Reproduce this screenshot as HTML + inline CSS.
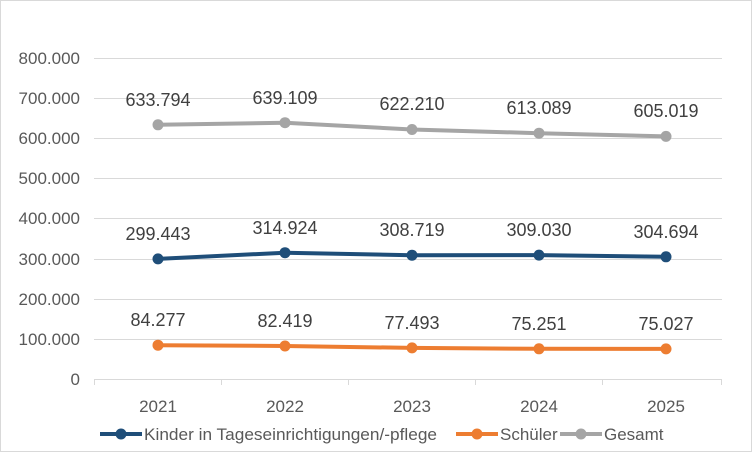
<!DOCTYPE html>
<html><head><meta charset="utf-8"><style>
body{margin:0;background:#fff}
svg{display:block;font-family:"Liberation Sans",sans-serif}
</style></head><body>
<svg width="752" height="452" viewBox="0 0 752 452">
<rect x="0.5" y="0.5" width="751" height="451" fill="#fff" stroke="#d9d9d9"/>
<g stroke="#d9d9d9" stroke-width="1">
<line x1="94" x2="722" y1="58.5" y2="58.5"/>
<line x1="94" x2="722" y1="98.5" y2="98.5"/>
<line x1="94" x2="722" y1="138.5" y2="138.5"/>
<line x1="94" x2="722" y1="178.5" y2="178.5"/>
<line x1="94" x2="722" y1="218.5" y2="218.5"/>
<line x1="94" x2="722" y1="259.5" y2="259.5"/>
<line x1="94" x2="722" y1="299.5" y2="299.5"/>
<line x1="94" x2="722" y1="339.5" y2="339.5"/>
<line x1="94" x2="722" y1="379.5" y2="379.5"/>
<line x1="94.5" x2="94.5" y1="379" y2="385"/>
<line x1="221.5" x2="221.5" y1="379" y2="385"/>
<line x1="348.5" x2="348.5" y1="379" y2="385"/>
<line x1="475.5" x2="475.5" y1="379" y2="385"/>
<line x1="602.5" x2="602.5" y1="379" y2="385"/>
<line x1="721.5" x2="721.5" y1="379" y2="385"/>
</g>
<g font-size="17" fill="#595959" text-anchor="end">
<text x="80" y="64">800.000</text><text x="80" y="104">700.000</text>
<text x="80" y="144">600.000</text><text x="80" y="184">500.000</text>
<text x="80" y="224">400.000</text><text x="80" y="265">300.000</text>
<text x="80" y="305">200.000</text><text x="80" y="345">100.000</text>
<text x="80" y="385">0</text>
</g>
<g font-size="17" fill="#595959" text-anchor="middle">
<text x="158" y="412">2021</text><text x="285" y="412">2022</text>
<text x="412" y="412">2023</text><text x="539" y="412">2024</text><text x="666" y="412">2025</text>
</g>
<g stroke-width="4" fill="none" stroke-linejoin="round">
<polyline stroke="#a5a5a5" points="158,124.8 285,122.7 412,129.5 539,133.2 666,136.4"/>
<polyline stroke="#1f4e79" points="158,258.9 285,252.7 412,255.2 539,255.1 666,256.8"/>
<polyline stroke="#ed7d31" points="158,345.2 285,346 412,347.9 539,348.8 666,348.9"/>
</g>
<g fill="#a5a5a5"><circle cx="158" cy="124.8" r="5.5"/><circle cx="285" cy="122.7" r="5.5"/><circle cx="412" cy="129.5" r="5.5"/><circle cx="539" cy="133.2" r="5.5"/><circle cx="666" cy="136.4" r="5.5"/></g>
<g fill="#1f4e79"><circle cx="158" cy="258.9" r="5.5"/><circle cx="285" cy="252.7" r="5.5"/><circle cx="412" cy="255.2" r="5.5"/><circle cx="539" cy="255.1" r="5.5"/><circle cx="666" cy="256.8" r="5.5"/></g>
<g fill="#ed7d31"><circle cx="158" cy="345.2" r="5.5"/><circle cx="285" cy="346" r="5.5"/><circle cx="412" cy="347.9" r="5.5"/><circle cx="539" cy="348.8" r="5.5"/><circle cx="666" cy="348.9" r="5.5"/></g>
<g font-size="18" fill="#404040" text-anchor="middle">
<text x="158" y="106">633.794</text><text x="285" y="104">639.109</text><text x="412" y="110">622.210</text><text x="539" y="114">613.089</text><text x="666" y="117">605.019</text>
<text x="158" y="240">299.443</text><text x="285" y="234">314.924</text><text x="412" y="236">308.719</text><text x="539" y="236">309.030</text><text x="666" y="238">304.694</text>
<text x="158" y="326">84.277</text><text x="285" y="327">82.419</text><text x="412" y="329">77.493</text><text x="539" y="330">75.251</text><text x="666" y="330">75.027</text>
</g>
<g font-size="17" fill="#595959">
<line x1="100" x2="142" y1="434" y2="434" stroke="#1f4e79" stroke-width="4"/><circle cx="121" cy="434" r="5.5" fill="#1f4e79"/>
<text x="144" y="440" textLength="293" lengthAdjust="spacingAndGlyphs">Kinder in Tageseinrichtigungen/-pflege</text>
<line x1="456" x2="498" y1="434" y2="434" stroke="#ed7d31" stroke-width="4"/><circle cx="477" cy="434" r="5.5" fill="#ed7d31"/>
<text x="500" y="440">Schüler</text>
<line x1="560" x2="602" y1="434" y2="434" stroke="#a5a5a5" stroke-width="4"/><circle cx="581" cy="434" r="5.5" fill="#a5a5a5"/>
<text x="604" y="440">Gesamt</text>
</g>
</svg>
</body></html>
